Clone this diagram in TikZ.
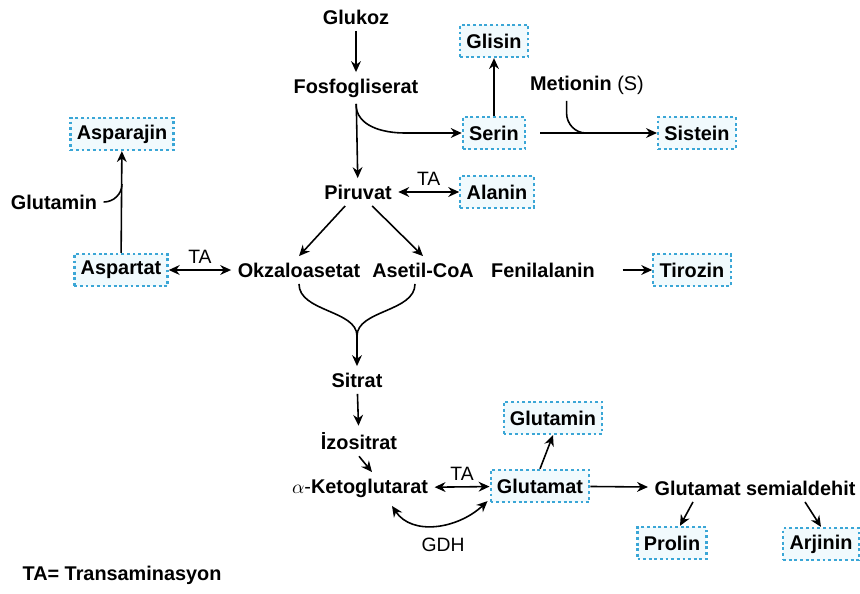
\documentclass[tikz,border=0pt]{standalone}
\usepackage{fontspec}
\setmainfont{Liberation Sans}
\usetikzlibrary{arrows.meta,positioning,calc}
\definecolor{aaline}{HTML}{3AA6D6}
\definecolor{aafill}{HTML}{F1FAFD}

\begin{document}
\begin{tikzpicture}[x=0.02cm,y=-0.02cm,>={Stealth[length=6.2pt,width=5.6pt]},line width=0.9pt,
  font=\bfseries\fontsize{11.3}{13}\selectfont]
\tikzstyle{aa}=[draw=aaline,fill=aafill,line width=1.3pt,dash pattern=on 1.6pt off 1.6pt,inner xsep=3.6pt,minimum height=0.64cm]
\tikzstyle{lb}=[font=\mdseries\fontsize{11}{13}\selectfont]
\useasboundingbox (0,0) rectangle (860,593);
\node (glu) at (356,17) {Glukoz};
\node (fos) at (356,88) {Fosfogliserat};
\node (pir) at (358,192) {Piruvat};
\node[aa] (gli) at (494,41) {Glisin};
\node[aa] (ser) at (494,133) {Serin};
\node (met) at (587,85) {Metionin {\mdseries(S)}};
\node[aa] (sis) at (697,133) {Sistein};
\node[aa] (ala) at (497,192) {Alanin};
\node[aa] (asn) at (122,134) {Asparajin};
\node (gln1) at (54,202) {Glutamin};
\node[aa] (asp) at (121,270) {Aspartat};
\node (oaa) at (299,270) {Okzaloasetat};
\node (aco) at (423,270) {Asetil-CoA};
\node (phe) at (543,270) {Fenilalanin};
\node[aa] (tyr) at (692,270) {Tirozin};
\node (sit) at (357,380) {Sitrat};
\node (izo) at (359,441) {İzositrat};
\node (akg) at (360,488) {{\mdseries$\alpha$-}Ketoglutarat};
\node[aa] (glt) at (540,486) {Glutamat};
\node[aa] (gln2) at (553,418) {Glutamin};
\node (gsa) at (755,488) {Glutamat semialdehit};
\node[aa] (pro) at (672,543) {Prolin};
\node[aa] (arg) at (821,544) {Arjinin};
\node[lb] (gdh) at (443,545) {GDH};
\node (key) at (122,575) {TA= Transaminasyon};
\coordinate (fb) at (405,133);
\coordinate (mj) at (586,133);
\coordinate (aj) at (122,184);
\coordinate (mg) at (357,336);
\draw[->] (glu) -- (fos);
\draw[->] (fos) -- (pir);
\draw[->] (fos.south) to[out=-90,in=180] (fb) -- (ser.west);
\draw[->] (ser) -- (gli);
\draw[->,shorten <=8pt] (ser) -- (sis);
\draw ($(met.south west)+(43,0)$) -- ++(0,12) to[out=-90,in=180] (mj);
\draw[<->] (pir) -- node[lb,above]{TA} (ala);
\draw[->] (pir) -- (oaa.north);
\draw[->] (pir) -- (aco.north);
\draw[<->] (asp) -- node[lb,above]{TA} (oaa);
\draw[->] (asp) -- (asn);
\draw (gln1.east) to[out=0,in=-90] (aj);
\draw[->,shorten <=12pt] (phe) -- (tyr);
\draw (oaa.south) .. controls +(0,28) and +(0,-26) .. (mg);
\draw ($(aco.south)+(-8,0)$) .. controls +(0,28) and +(0,-26) .. (mg);
\draw[->] (mg) -- (sit);
\draw[->] (sit) -- (izo);
\draw[->] (izo.south) -- ($(akg.north)+(12,0)$);
\draw[<->] (akg) -- node[lb,above]{TA} (glt);
\draw[<->] ($(akg.south)+(32,2)$) .. controls +(20,30) and +(-30,28) .. ($(glt.south west)+(-2,-2)$);
\draw[->] (glt.north) -- (gln2.south);
\draw[->] (glt) -- (gsa);
\draw[->] ($(gsa.south)+(-62,0)$) -- ($(pro.north)+(8,0)$);
\draw[->] ($(gsa.south)+(50,0)$) -- (arg.north);
\end{tikzpicture}
\end{document}
